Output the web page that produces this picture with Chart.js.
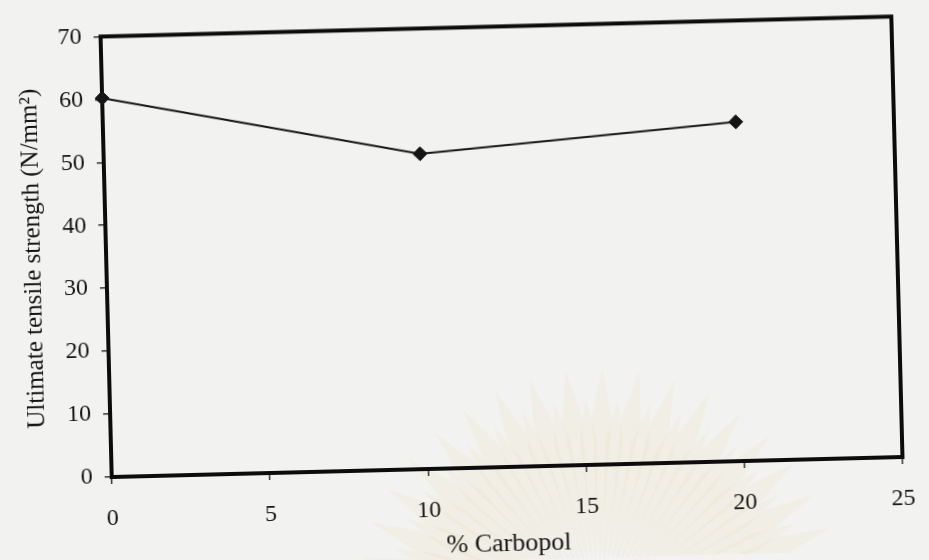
<!DOCTYPE html>
<html>
<head>
<meta charset="utf-8">
<title>Ultimate tensile strength vs % Carbopol</title>
<script src="https://cdn.jsdelivr.net/npm/chart.js@4/dist/chart.umd.min.js"></script>
<style>
  html, body { margin: 0; padding: 0; background: #f2f2f0; overflow: hidden; }
  #wrap { position: relative; width: 929px; height: 560px; }
  /* the printed page sits slightly askew */
  #c { position: absolute; left: 0; top: 0; transform: rotate(-1.45deg); transform-origin: 505px 246px; }
</style>
</head>
<body>
<div id="wrap"><canvas id="c" width="929" height="560"></canvas></div>
<script>
// % Carbopol in the film and measured ultimate tensile strength (N/mm²)
const carbopol = [0, 10, 20];
const tensileStrength = [60.2, 50.1, 53.9];

// axis ticks
const xTickValues = [0, 5, 10, 15, 20, 25];
const yTickValues = [0, 10, 20, 30, 40, 50, 60, 70];

const xTitle = '% Carbopol';
const yTitle = 'Ultimate tensile strength (N/mm²)';

const serif = 'Liberation Serif, Times New Roman, serif';
const ink = '#151515';

// faint printed emblem behind the lower part of the page
const emblem = {
  id: 'emblem',
  beforeDraw(chart) {
    const ctx = chart.ctx;
    const cx = 590, cy = 615;
    const rays = 40;
    ctx.save();
    ctx.fillStyle = 'rgba(226, 205, 140, 0.10)';
    for (let i = 0; i < rays; i++) {
      const a = Math.PI * 1.02 + (i + 0.5) * (Math.PI * 0.96 / rays);
      const len = 245 + ((i % 2) ? -30 : 0);
      const r0 = 55, w = 0.05;
      ctx.beginPath();
      ctx.moveTo(cx + Math.cos(a - w * 0.3) * r0, cy + Math.sin(a - w * 0.3) * r0);
      ctx.lineTo(cx + Math.cos(a - w) * len * 0.8, cy + Math.sin(a - w) * len * 0.8);
      ctx.lineTo(cx + Math.cos(a) * len, cy + Math.sin(a) * len);
      ctx.lineTo(cx + Math.cos(a + w) * len * 0.8, cy + Math.sin(a + w) * len * 0.8);
      ctx.lineTo(cx + Math.cos(a + w * 0.3) * r0, cy + Math.sin(a + w * 0.3) * r0);
      ctx.closePath();
      ctx.fill();
    }
    ctx.restore();
  }
};

// heavy rectangular frame around the plot area
const frame = {
  id: 'frame',
  beforeDatasetsDraw(chart) {
    const { ctx, chartArea: a } = chart;
    ctx.save();
    ctx.strokeStyle = '#0c0c0c';
    ctx.lineWidth = 4;
    ctx.lineJoin = 'miter';
    ctx.strokeRect(a.left, a.top, a.right - a.left, a.bottom - a.top);
    ctx.restore();
  }
};

new Chart(document.getElementById('c'), {
  type: 'scatter',
  data: {
    datasets: [{
      data: carbopol.map((x, i) => ({ x, y: tensileStrength[i] })),
      showLine: true,
      borderColor: ink,
      borderWidth: 2,
      pointStyle: 'rectRot',
      pointRadius: 7,
      pointHoverRadius: 7,
      pointBackgroundColor: ink,
      pointBorderColor: ink,
      pointBorderWidth: 1,
      clip: false
    }]
  },
  options: {
    responsive: false,
    animation: false,
    events: [],
    layout: { padding: { top: 25, right: 23, left: 0, bottom: 0 } },
    plugins: { legend: { display: false }, tooltip: { enabled: false } },
    scales: {
      x: {
        type: 'linear',
        min: xTickValues[0],
        max: xTickValues[xTickValues.length - 1],
        afterBuildTicks: s => { s.ticks = xTickValues.map(v => ({ value: v })); },
        afterFit: s => { s.height = 93; },
        border: { display: false },
        grid: { drawOnChartArea: false, drawTicks: true, tickLength: 7, color: '#333', lineWidth: 1.5 },
        ticks: { color: ink, padding: 20, font: { family: serif, size: 24 } },
        title: { display: true, text: xTitle, color: ink, padding: { top: 0, bottom: 0 },
                 font: { family: serif, size: 26 } }
      },
      y: {
        type: 'linear',
        min: yTickValues[0],
        max: yTickValues[yTickValues.length - 1],
        afterBuildTicks: s => { s.ticks = yTickValues.map(v => ({ value: v })); },
        afterFit: s => { s.width = 106; },
        border: { display: false },
        grid: { drawOnChartArea: false, drawTicks: true, tickLength: 7, color: '#333', lineWidth: 1.5 },
        ticks: { color: ink, padding: 12, font: { family: serif, size: 24 } },
        title: { display: true, text: yTitle, color: ink, padding: { top: 18, bottom: 0 },
                 font: { family: serif, size: 25 } }
      }
    }
  },
  plugins: [emblem, frame]
});
</script>
</body>
</html>
